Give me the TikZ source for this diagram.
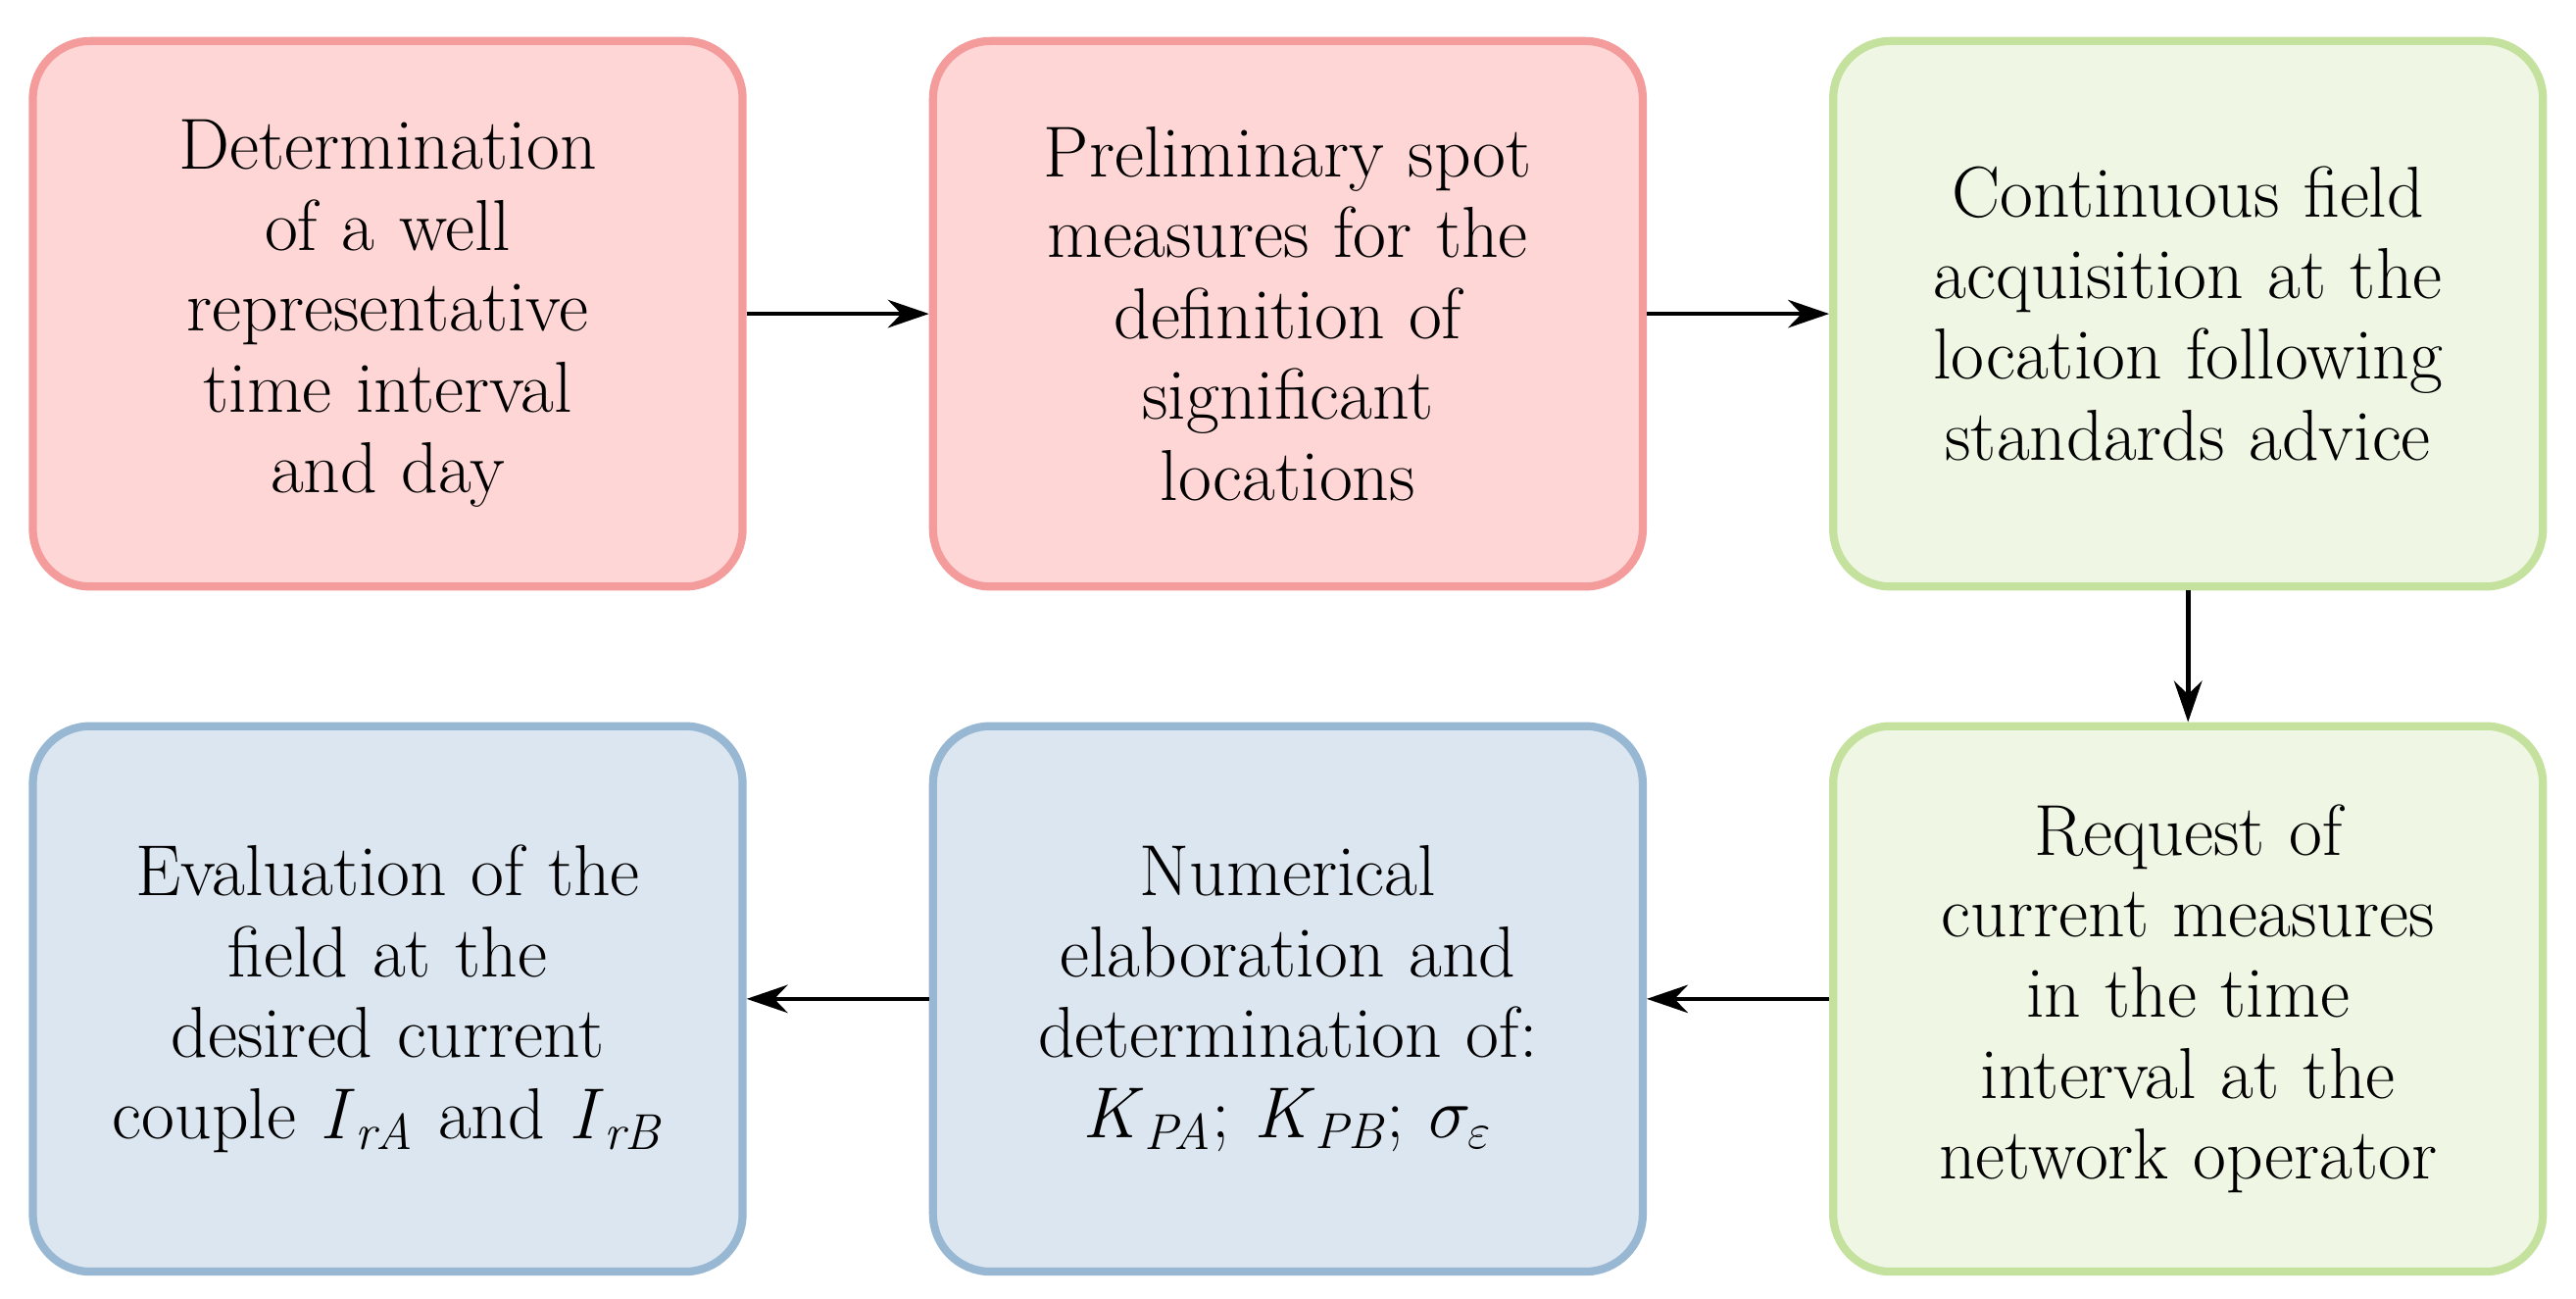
\documentclass[tikz,border=0pt]{standalone}
\usetikzlibrary{positioning,arrows.meta}
\definecolor{redfill}{HTML}{FFD6D6}
\definecolor{redline}{HTML}{F49C9C}
\definecolor{greenfill}{HTML}{EFF7E4}
\definecolor{greenline}{HTML}{C5E19E}
\definecolor{bluefill}{HTML}{DCE6F0}
\definecolor{blueline}{HTML}{97B7D3}
\begin{document}
\begin{tikzpicture}[node distance = 2.22cm and 1.6cm,
  box/.style={rectangle,rounded corners=0.7cm,line width=2.8pt,minimum width=8.64cm,minimum height=6.64cm,text width=8.2cm,align=center,font=\fontsize{25}{28}\selectfont},
  red/.style={box,fill=redfill,draw=redline},
  green/.style={box,fill=greenfill,draw=greenline},
  blue/.style={box,fill=bluefill,draw=blueline},
  arr/.style={-{Stealth[length=0.5cm,width=0.34cm]},line width=1.6pt}]
\useasboundingbox (0,0) rectangle (31.36,15.8);
\node[red] (det) at (4.72,11.98) {Determination\\of a well\\representative\\time interval\\and day};
\node[red] (pre) [right = 2.22cm of det] {Preliminary spot\\measures for the\\definition of\\significant\\locations};
\node[green] (con) [right = 2.22cm of pre] {Continuous field\\acquisition at the\\location following\\standards advice};
\node[green] (req) [below = 1.6cm of con] {Request of\\current measures\\in the time\\interval at the\\network operator};
\node[blue] (num) [left = 2.22cm of req] {Numerical\\elaboration and\\determination of:\\\textit{K}\textsubscript{\textit{PA}}; \textit{K}\textsubscript{\textit{PB}}; $\sigma_\varepsilon$};
\node[blue] (eva) [left = 2.22cm of num] {Evaluation of the\\field at the\\desired current\\couple \textit{I}\textsubscript{\textit{rA}} and \textit{I}\textsubscript{\textit{rB}}};

\draw[arr] (det) -- (pre);
\draw[arr] (pre) -- (con);
\draw[arr] (con) -- (req);
\draw[arr] (req) -- (num);
\draw[arr] (num) -- (eva);
\end{tikzpicture}
\end{document}
